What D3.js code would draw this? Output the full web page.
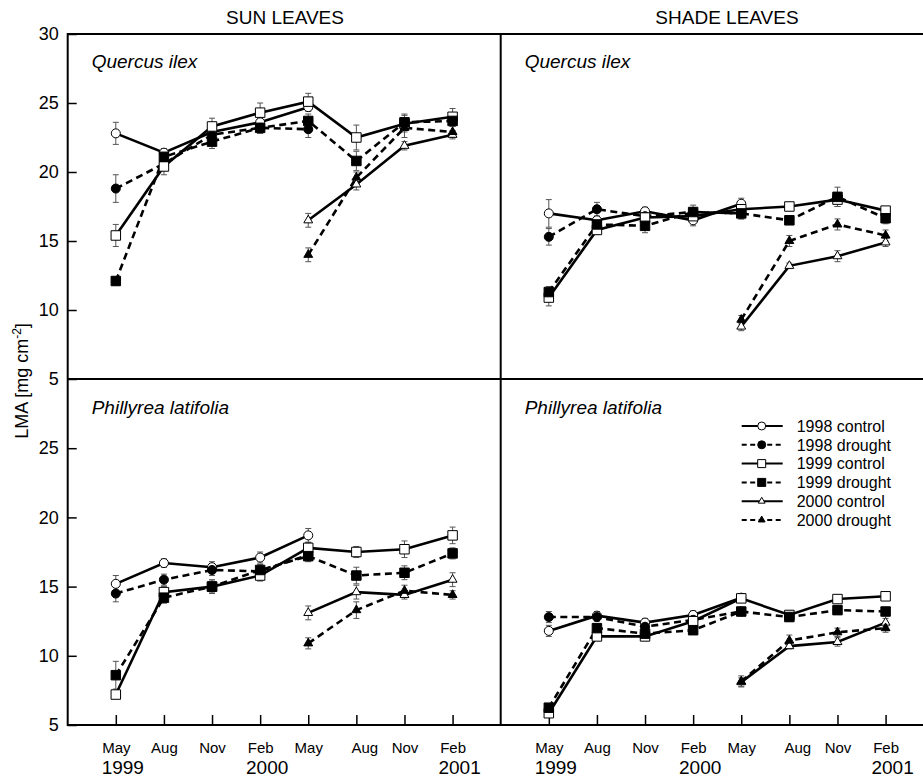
<!DOCTYPE html>
<html>
<head>
<meta charset="utf-8">
<script src="https://cdn.jsdelivr.net/npm/d3@7"></script>
<style>
  body { margin: 0; background: #fff; }
  text { font-family: "Liberation Sans", Arial, sans-serif; fill: #000; }
</style>
</head>
<body>
<script>
// sampling dates and year marks on the x axis
const months = ["May", "Aug", "Nov", "Feb", "May", "Aug", "Nov", "Feb"];
const yearLabels = ["1999", "2000", "2001"];
const yearAt = [0, 3, 7];

// leaf cohorts (1998 / 1999 / 2000) x treatment
const seriesNames = ["1998 control", "1998 drought", "1999 control", "1999 drought", "2000 control", "2000 drought"];
const seriesStart = [0, 0, 0, 0, 4, 4];

// LMA means (mg cm-2) and standard errors, one row per series
const sunQuercus = [
  [22.8, 21.4, 22.9, 23.6, 24.7],
  [18.8, 20.6, 22.7, 23.2, 23.1],
  [15.4, 20.4, 23.3, 24.3, 25.1, 22.5, 23.5, 24.0],
  [12.1, 21.1, 22.2, 23.2, 23.7, 20.8, 23.6, 23.7],
  [16.5, 19.1, 21.9, 22.7],
  [14.0, 19.6, 23.2, 22.9]
];
const sunQuercusSE = [
  [0.8, 0.3, 0.5, 0.4, 0.3],
  [1.0, 0.4, 0.4, 0.4, 0.6],
  [0.8, 0.6, 0.6, 0.7, 0.6, 0.9, 0.6, 0.6],
  [0.3, 0.5, 0.5, 0.4, 0.5, 0.7, 0.6, 0.4],
  [0.5, 0.4, 0.3, 0.3],
  [0.5, 0.4, 0.7, 0.4]
];
const shadeQuercus = [
  [17.0, 16.5, 17.15, 16.5, 17.7],
  [15.3, 17.3, 16.8, 17.1, 17.0],
  [10.9, 15.8, 16.7, 16.8, 17.3, 17.5, 18.0, 17.2],
  [11.3, 16.2, 16.1, 17.1, 17.0, 16.5, 18.2, 16.65],
  [8.8, 13.2, 13.9, 14.9],
  [9.3, 15.0, 16.2, 15.4]
];
const shadeQuercusSE = [
  [1.0, 0.3, 0.3, 0.4, 0.4],
  [0.6, 0.5, 0.3, 0.5, 0.4],
  [0.6, 0.3, 0.3, 0.3, 0.3, 0.3, 0.5, 0.3],
  [0.4, 0.3, 0.5, 0.3, 0.4, 0.3, 0.7, 0.4],
  [0.3, 0.2, 0.4, 0.3],
  [0.3, 0.4, 0.4, 0.4]
];
const sunPhillyrea = [
  [15.2, 16.7, 16.4, 17.1, 18.7],
  [14.5, 15.5, 16.2, 16.1, 17.3],
  [7.2, 14.6, 15.0, 15.8, 17.8, 17.5, 17.7, 18.7],
  [8.6, 14.2, 15.0, 16.2, 17.2, 15.8, 16.0, 17.4],
  [13.1, 14.6, 14.4, 15.5],
  [10.9, 13.3, 14.7, 14.4]
];
const sunPhillyreaSE = [
  [0.6, 0.3, 0.4, 0.4, 0.5],
  [0.6, 0.4, 0.4, 0.3, 0.4],
  [0.3, 0.4, 0.4, 0.4, 0.4, 0.4, 0.6, 0.6],
  [1.0, 0.4, 0.5, 0.4, 0.4, 0.6, 0.5, 0.4],
  [0.5, 0.5, 0.3, 0.5],
  [0.4, 0.6, 0.4, 0.3]
];
const shadePhillyrea = [
  [11.8, 12.9, 12.4, 12.95, 14.2],
  [12.8, 12.8, 12.1, 12.6, 13.2],
  [5.85, 11.4, 11.4, 12.5, 14.15, 12.95, 14.1, 14.3],
  [6.25, 12.0, 11.6, 11.85, 13.2, 12.8, 13.3, 13.2],
  [8.1, 10.7, 11.0, 12.4],
  [8.15, 11.1, 11.7, 12.0]
];
const shadePhillyreaSE = [
  [0.4, 0.3, 0.3, 0.3, 0.3],
  [0.4, 0.3, 0.3, 0.3, 0.3],
  [0.3, 0.3, 0.3, 0.3, 0.3, 0.3, 0.3, 0.3],
  [0.3, 0.3, 0.3, 0.3, 0.3, 0.3, 0.3, 0.3],
  [0.3, 0.2, 0.3, 0.3],
  [0.4, 0.4, 0.3, 0.3]
];

const width = 923, height = 778;
const colX = [[67.7, 500.7], [500.7, 933.7]];
const rowY = [[34, 379], [379, 725]];

const panels = [
  { col: 0, row: 0, species: "Quercus ilex", mean: sunQuercus, se: sunQuercusSE },
  { col: 1, row: 0, species: "Quercus ilex", mean: shadeQuercus, se: shadeQuercusSE },
  { col: 0, row: 1, species: "Phillyrea latifolia", mean: sunPhillyrea, se: sunPhillyreaSE },
  { col: 1, row: 1, species: "Phillyrea latifolia", mean: shadePhillyrea, se: shadePhillyreaSE }
];

// marker + line style per series
const symbols = [d3.symbolCircle, d3.symbolCircle, d3.symbolSquare, d3.symbolSquare, d3.symbolTriangle, d3.symbolTriangle];
const symSize = [64, 64, 90, 90, 34, 34];
const legendSize = [50, 50, 64, 64, 20, 20];
const filled = i => i % 2 === 1;
const dashed = i => i % 2 === 1;

const svg = d3.select("body").append("svg")
  .attr("width", width)
  .attr("height", height);

const xScales = colX.map(r => d3.scalePoint().domain(d3.range(months.length)).range(r).padding(1));
const yScales = rowY.map(r => d3.scaleLinear().domain([5, 30]).range([r[1], r[0]]));

// column headers
svg.append("text").attr("x", 285).attr("y", 24).attr("text-anchor", "middle")
  .style("font-size", "19px").text("SUN LEAVES");
svg.append("text").attr("x", 727).attr("y", 24).attr("text-anchor", "middle")
  .style("font-size", "19px").text("SHADE LEAVES");

// y axes on the left column
rowY.forEach((r, ri) => {
  const ticks = ri === 0 ? [5, 10, 15, 20, 25, 30] : [5, 10, 15, 20, 25];
  const g = svg.append("g")
    .attr("transform", `translate(${colX[0][0]},0)`)
    .call(d3.axisLeft(yScales[ri]).tickValues(ticks).tickSizeInner(-9).tickSizeOuter(0).tickPadding(9));
  g.select(".domain").remove();
  g.selectAll("line").attr("stroke-width", 1.5);
  g.selectAll("text").style("font-size", "18px").style("font-family", "'Liberation Sans', Arial, sans-serif");
});

// x axes at the bottom
colX.forEach((c, ci) => {
  const g = svg.append("g")
    .attr("transform", `translate(0,${rowY[1][1]})`)
    .call(d3.axisBottom(xScales[ci]).tickFormat(i => months[i]).tickSizeInner(-10).tickSizeOuter(0).tickPadding(17));
  g.select(".domain").remove();
  g.selectAll("line").attr("stroke-width", 1.5);
  g.selectAll("text")
    .attr("dx", i => i === 5 ? 8 : 0)
    .style("font-size", "15px").style("font-family", "'Liberation Sans', Arial, sans-serif");

  yearLabels.forEach((lab, k) => {
    svg.append("text")
      .attr("x", xScales[ci](yearAt[k]) + 7)
      .attr("y", 774)
      .attr("text-anchor", "middle")
      .style("font-size", "19px")
      .text(lab);
  });
});

// y label
const yl = svg.append("text")
  .attr("transform", "translate(28,381) rotate(-90)")
  .attr("text-anchor", "middle")
  .style("font-size", "18px");
yl.append("tspan").text("LMA [mg cm");
yl.append("tspan").attr("dy", -7).style("font-size", "12px").text("-2");
yl.append("tspan").attr("dy", 7).text("]");

// panels
panels.forEach(p => {
  const x = xScales[p.col], y = yScales[p.row];
  const g = svg.append("g");

  g.append("text")
    .attr("x", colX[p.col][0] + 24)
    .attr("y", rowY[p.row][0] + (p.row === 0 ? 34 : 35))
    .style("font-size", "19px").style("font-style", "italic")
    .text(p.species);

  const series = p.mean.map((vals, si) => ({
    si,
    pts: vals.map((v, k) => ({ i: seriesStart[si] + k, v, e: p.se[si][k] }))
  }));

  // error bars
  series.forEach(s => {
    const eb = g.append("g").attr("stroke", "#555").attr("stroke-width", 1);
    s.pts.forEach(d => {
      const cx = x(d.i);
      eb.append("line").attr("x1", cx).attr("x2", cx).attr("y1", y(d.v - d.e)).attr("y2", y(d.v + d.e));
      [d.v - d.e, d.v + d.e].forEach(t => {
        eb.append("line").attr("x1", cx - 3).attr("x2", cx + 3).attr("y1", y(t)).attr("y2", y(t));
      });
    });
  });

  const line = d3.line().x(d => x(d.i)).y(d => y(d.v));

  series.forEach(s => {
    g.append("path")
      .datum(s.pts)
      .attr("d", line)
      .attr("fill", "none")
      .attr("stroke", "#000")
      .attr("stroke-width", 2.6)
      .attr("stroke-dasharray", dashed(s.si) ? "7,4.5" : null);
  });

  series.forEach(s => {
    g.selectAll(null)
      .data(s.pts)
      .enter().append("path")
      .attr("transform", d => `translate(${x(d.i)},${y(d.v)})`)
      .attr("d", d3.symbol().type(symbols[s.si]).size(symSize[s.si]))
      .attr("fill", filled(s.si) ? "#000" : "#fff")
      .attr("stroke", "#000")
      .attr("stroke-width", 1);
  });
});

// frame lines
const frame = svg.append("g").attr("stroke", "#000").attr("stroke-width", 2);
rowY.flat().filter((v, i, a) => a.indexOf(v) === i).forEach(yy => {
  frame.append("line").attr("x1", colX[0][0]).attr("x2", width).attr("y1", yy).attr("y2", yy);
});
[colX[0][0], colX[1][0]].forEach(xx => {
  frame.append("line").attr("x1", xx).attr("x2", xx).attr("y1", rowY[0][0] - 1).attr("y2", rowY[1][1] + 1);
});

// legend
const legend = svg.append("g").attr("transform", "translate(741.7,426)");
seriesNames.forEach((name, i) => {
  const row = legend.append("g").attr("transform", `translate(0,${i * 18.8})`);
  row.append("line")
    .attr("x1", 0).attr("x2", 41).attr("y1", 0).attr("y2", 0)
    .attr("stroke", "#000").attr("stroke-width", 2)
    .attr("stroke-dasharray", dashed(i) ? "5,3.5" : null);
  row.append("path")
    .attr("transform", "translate(20,0)")
    .attr("d", d3.symbol().type(symbols[i]).size(legendSize[i]))
    .attr("fill", filled(i) ? "#000" : "#fff")
    .attr("stroke", "#000").attr("stroke-width", 1);
  row.append("text")
    .attr("x", 55).attr("y", 0).attr("dy", "0.36em")
    .style("font-size", "16px")
    .text(name);
});
</script>
</body>
</html>
